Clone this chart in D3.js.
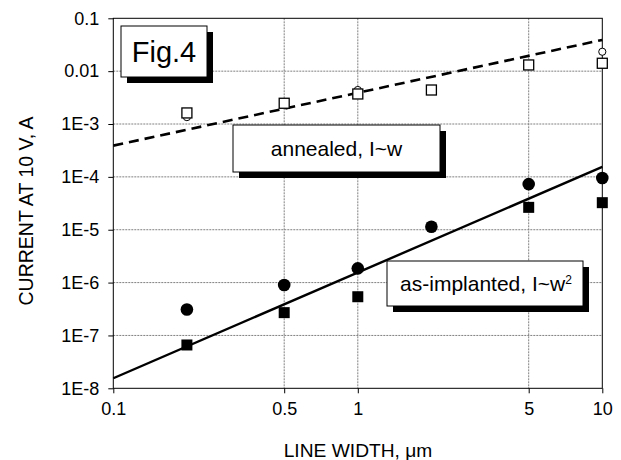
<!DOCTYPE html>
<html>
<head>
<meta charset="utf-8">
<script src="https://cdn.jsdelivr.net/npm/d3@7"></script>
<style>
  body { margin: 0; background: #fff; }
  text { font-family: Arial, "Liberation Sans", sans-serif; fill: #000; }
</style>
</head>
<body>
<div id="chart"></div>
<script>
// data
const widths = [0.2, 0.5, 1, 2, 5, 10];
const annealedSquares = [1.62e-3, 2.47e-3, 3.7e-3, 4.4e-3, 0.0131, 0.0141];
const annealedCircleW = [0.2, 1, 10];
const annealedCircles = [1.35e-3, 4.4e-3, 0.0233];
const implantedCircles = [3.1e-7, 9.0e-7, 1.86e-6, 1.14e-5, 7.3e-5, 9.5e-5];
const implantedSquareW = [0.2, 0.5, 1, 5, 10];
const implantedSquares = [6.6e-8, 2.7e-7, 5.4e-7, 2.65e-5, 3.25e-5];
const fitW = [0.1, 10];
const annealedFit = [3.9e-4, 3.9e-2];   // I ~ w
const implantedFit = [1.55e-8, 1.55e-4]; // I ~ w^2
const xTicks = [0.1, 0.5, 1, 5, 10];
const yTicks = [1e-8, 1e-7, 1e-6, 1e-5, 1e-4, 1e-3, 0.01, 0.1];
const yTickLabels = ["1E-8", "1E-7", "1E-6", "1E-5", "1E-4", "1E-3", "0.01", "0.1"];

const width = 621;
const height = 460;
const margin = {left: 113.3, top: 18.3, right: 18.7, bottom: 71.7};
const w = width - margin.left - margin.right;
const h = height - margin.top - margin.bottom;

const svg = d3.select("#chart").append("svg")
  .attr("width", width)
  .attr("height", height);

const x = d3.scaleLog().domain([0.1, 10]).range([0, w]);
const y = d3.scaleLog().domain([1e-8, 0.1]).range([h, 0]);

const g = svg.append("g")
  .attr("transform", "translate(" + margin.left + "," + margin.top + ")");

// grid
g.selectAll(".hgrid")
  .data(yTicks.slice(1, -1))
  .enter().append("line")
  .attr("x1", 0).attr("x2", w)
  .attr("y1", d => y(d)).attr("y2", d => y(d))
  .attr("stroke", "#808080")
  .attr("stroke-dasharray", "2,1")
  .attr("stroke-width", 1);

g.selectAll(".vgrid")
  .data(xTicks.slice(1, -1))
  .enter().append("line")
  .attr("x1", d => x(d)).attr("x2", d => x(d))
  .attr("y1", 0).attr("y2", h)
  .attr("stroke", "#808080")
  .attr("stroke-dasharray", "2,1")
  .attr("stroke-width", 1);

// frame
g.append("rect")
  .attr("width", w).attr("height", h)
  .attr("fill", "none")
  .attr("stroke", "#000")
  .attr("stroke-width", 1);

// axes
const yAxis = g.append("g")
  .call(d3.axisLeft(y).tickValues(yTicks)
    .tickFormat((d, i) => yTickLabels[i]).tickSize(5).tickPadding(9));
yAxis.select(".domain").remove();
yAxis.selectAll("text").style("font-size", "18px").attr("font-family", null);

const xAxis = g.append("g")
  .attr("transform", "translate(0," + h + ")")
  .call(d3.axisBottom(x).tickValues(xTicks)
    .tickFormat(d3.format("")).tickSize(5).tickPadding(9));
xAxis.select(".domain").remove();
xAxis.selectAll("text").style("font-size", "18px").attr("font-family", null);

svg.append("text")
  .attr("transform", "translate(33,211) rotate(-90)")
  .attr("text-anchor", "middle")
  .style("font-size", "19.5px")
  .text("CURRENT AT 10 V, A");

svg.append("text")
  .attr("x", 358).attr("y", 457)
  .attr("text-anchor", "middle")
  .style("font-size", "19.2px")
  .text("LINE WIDTH, μm");

// fit lines
const line = d3.line().x(d => x(d[0])).y(d => y(d[1]));

g.append("path")
  .datum(d3.zip(fitW, annealedFit))
  .attr("d", line)
  .attr("fill", "none")
  .attr("stroke", "#000")
  .attr("stroke-width", 2.6)
  .attr("stroke-dasharray", "10,6");

g.append("path")
  .datum(d3.zip(fitW, implantedFit))
  .attr("d", line)
  .attr("fill", "none")
  .attr("stroke", "#000")
  .attr("stroke-width", 2.4);

// annealed markers
g.selectAll(".aCircle")
  .data(d3.zip(annealedCircleW, annealedCircles))
  .enter().append("circle")
  .attr("cx", d => x(d[0])).attr("cy", d => y(d[1]))
  .attr("r", 3.6)
  .attr("fill", "#fff").attr("stroke", "#000").attr("stroke-width", 1);

g.selectAll(".aSquare")
  .data(d3.zip(widths, annealedSquares))
  .enter().append("rect")
  .attr("x", d => x(d[0]) - 5).attr("y", d => y(d[1]) - 5)
  .attr("width", 10).attr("height", 10)
  .attr("fill", "#fff").attr("stroke", "#000").attr("stroke-width", 1.3);

// as-implanted markers
g.selectAll(".iCircle")
  .data(d3.zip(widths, implantedCircles))
  .enter().append("circle")
  .attr("cx", d => x(d[0])).attr("cy", d => y(d[1]))
  .attr("r", 6.3)
  .attr("fill", "#000");

g.selectAll(".iSquare")
  .data(d3.zip(implantedSquareW, implantedSquares))
  .enter().append("rect")
  .attr("x", d => x(d[0]) - 5.5).attr("y", d => y(d[1]) - 5.5)
  .attr("width", 11).attr("height", 11)
  .attr("fill", "#000");

// label boxes with drop shadow
const addBox = (bx, by, bw, bh, size) => {
  svg.append("rect")
    .attr("x", bx + 6).attr("y", by + 6)
    .attr("width", bw).attr("height", bh)
    .attr("fill", "#000");
  svg.append("rect")
    .attr("x", bx).attr("y", by)
    .attr("width", bw).attr("height", bh)
    .attr("fill", "#fff").attr("stroke", "#000").attr("stroke-width", 1);
  return svg.append("text")
    .attr("x", bx + bw / 2).attr("y", by + bh / 2)
    .attr("dy", "0.36em")
    .attr("text-anchor", "middle")
    .style("font-size", size + "px");
};

addBox(121, 26, 86, 51, 29).text("Fig.4");
addBox(233, 125, 207, 47, 21).text("annealed, I~w");
const t = addBox(387, 261, 196, 45, 21).attr("x", 486).text("as-implanted, I~w");
t.append("tspan")
  .attr("dy", "-0.6em")
  .style("font-size", "12px")
  .text("2");
</script>
</body>
</html>
